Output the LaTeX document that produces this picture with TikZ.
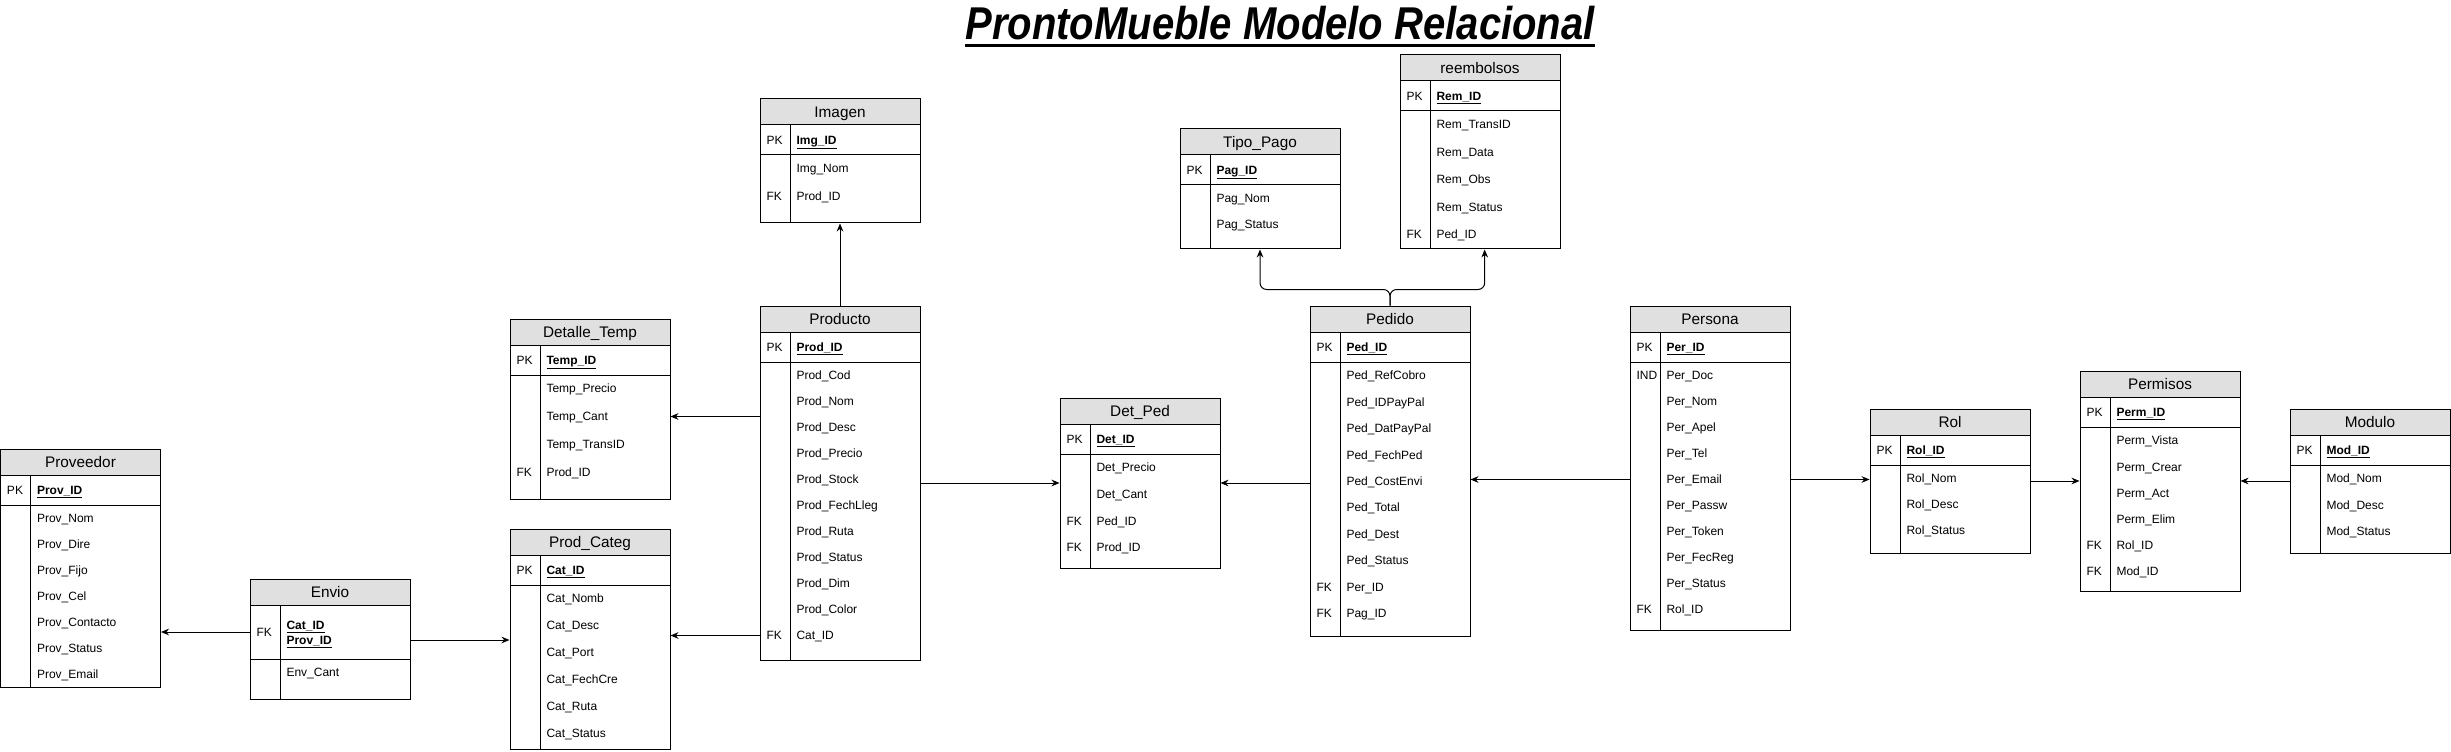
\documentclass[tikz,border=0pt]{standalone}
\usepackage{fontspec}
\setmainfont{Liberation Sans}
\usetikzlibrary{arrows.meta,fit}
\definecolor{headgray}{RGB}{224,224,224}
\newcommand{\rowfont}{\fontsize{9}{10.5}\selectfont}
\newcommand{\headfont}{\fontsize{11.5}{13}\selectfont}
\tikzset{
  tbl/.style={draw, inner sep=0pt},
  headtxt/.style={font=\headfont, inner sep=0pt, text height=8.3pt, text depth=0pt},
  keytxt/.style={font=\rowfont, anchor=west, inner sep=0pt, text height=6.5pt, text depth=0pt},
  fldtxt/.style={keytxt},
  rel/.style={-{Stealth[length=6pt,width=5pt]}},
}
% table: name, left, top, bottom, title, pk field, row pitch, key/field rows
\newcommand{\ertable}[8]{%
  \node[tbl, fit={(#2,#3) ({#2+160},#4)}] (#1) {};
  \draw[fill=headgray] (#2,#3) rectangle ({#2+160},{#3+26});
  \node[headtxt] (#1-title) at ({#2+80},{#3+13}) {#5};
  \draw (#2,{#3+56}) -- ({#2+160},{#3+56});
  \draw ({#2+30},{#3+26}) -- ({#2+30},#4);
  \node[keytxt] at ({#2+6},{#3+41}) {PK};
  \node[fldtxt] (#1-pk) at ({#2+36},{#3+41}) {\bfseries\underline{#6}};
  \foreach \k/\f [count=\i] in {#8} {
    \node[keytxt] at ({#2+6},{#3+69.5+(\i-1)*#7}) {\k};
    \node[fldtxt] (#1-\i) at ({#2+36},{#3+69.5+(\i-1)*#7}) {\f};
  }%
}
\begin{document}
\begin{tikzpicture}[x=0.75pt, y=-0.75pt, line width=0.75pt]
  \useasboundingbox (0,0) rectangle (2451,752);
  % title
  \node[font=\fontsize{34.5}{40}\selectfont\bfseries\itshape, inner sep=0pt, anchor=base] (title) at (1280,39.5) {\scalebox{0.87}[1]{ProntoMueble Modelo Relacional}};
  \draw[line width=2.3pt] ([yshift=-4.5pt]title.base west) -- ([yshift=-4.5pt]title.base east);

  \ertable{prov}{0.5}{449}{687}{Proveedor}{Prov\_ID}{26}{/Prov\_Nom, /Prov\_Dire, /Prov\_Fijo, /Prov\_Cel, /Prov\_Contacto, /Prov\_Status, /Prov\_Email}
  \ertable{dt}{510}{319}{499}{Detalle\_Temp}{Temp\_ID}{28}{/Temp\_Precio, /Temp\_Cant, /Temp\_TransID, FK/Prod\_ID}
  \ertable{pcat}{510}{529}{749}{Prod\_Categ}{Cat\_ID}{27}{/Cat\_Nomb, /Cat\_Desc, /Cat\_Port, /Cat\_FechCre, /Cat\_Ruta, /Cat\_Status}
  \ertable{prod}{760}{306}{660}{Producto}{Prod\_ID}{26}{/Prod\_Cod, /Prod\_Nom, /Prod\_Desc, /Prod\_Precio, /Prod\_Stock, /Prod\_FechLleg, /Prod\_Ruta, /Prod\_Status, /Prod\_Dim, /Prod\_Color, FK/Cat\_ID}
  \ertable{img}{760}{99}{223}{Imagen}{Img\_ID}{28}{/Img\_Nom, FK/Prod\_ID}
  \ertable{detped}{1060}{398}{568}{Det\_Ped}{Det\_ID}{26.6}{/Det\_Precio, /Det\_Cant, FK/Ped\_ID, FK/Prod\_ID}
  \ertable{ped}{1310}{306}{636}{Pedido}{Ped\_ID}{26.4}{/Ped\_RefCobro, /Ped\_IDPayPal, /Ped\_DatPayPal, /Ped\_FechPed, /Ped\_CostEnvi, /Ped\_Total, /Ped\_Dest, /Ped\_Status, FK/Per\_ID, FK/Pag\_ID}
  \ertable{tpago}{1180}{129}{249}{Tipo\_Pago}{Pag\_ID}{26}{/Pag\_Nom, /Pag\_Status}
  \ertable{reemb}{1400}{55}{249}{reembolsos}{Rem\_ID}{27.4}{/Rem\_TransID, /Rem\_Data, /Rem\_Obs, /Rem\_Status, FK/Ped\_ID}
  \ertable{pers}{1630}{306}{630}{Persona}{Per\_ID}{26}{IND/Per\_Doc, /Per\_Nom, /Per\_Apel, /Per\_Tel, /Per\_Email, /Per\_Passw, /Per\_Token, /Per\_FecReg, /Per\_Status, FK/Rol\_ID}
  \ertable{rol}{1870}{409}{553}{Rol}{Rol\_ID}{26}{/Rol\_Nom, /Rol\_Desc, /Rol\_Status}
  \ertable{perm}{2080}{371}{591}{Permisos}{Perm\_ID}{26.2}{/Perm\_Vista, /Perm\_Crear, /Perm\_Act, /Perm\_Elim, FK/Rol\_ID, FK/Mod\_ID}
  \ertable{mod}{2290}{409}{553}{Modulo}{Mod\_ID}{26.2}{/Mod\_Nom, /Mod\_Desc, /Mod\_Status}

  % Envio has a two-field key
  \node[tbl, fit={(250,579) (410,699)}] (env) {};
  \draw[fill=headgray] (250,579) rectangle (410,605);
  \node[headtxt] (env-title) at (330,592) {Envio};
  \draw (250,659) -- (410,659);
  \draw (280,605) -- (280,699);
  \node[keytxt] (env-fk) at (256,632) {FK};
  \node[fldtxt] (env-pk) at (286,625) {\bfseries\underline{Cat\_ID}};
  \node[fldtxt] (env-pk2) at (286,640) {\bfseries\underline{Prov\_ID}};
  \node[fldtxt] (env-1) at (286,672.5) {Env\_Cant};

  % relations
  \draw[rel] (env.west |- env-fk) -- (prov.east |- env-fk);
  \draw[rel] (env.east |- env-pk2) -- (pcat.west |- env-pk2);
  \draw[rel] (prod.west |- prod-11) -- (pcat.east |- prod-11);
  \draw[rel] (prod.west |- dt-2) -- (dt.east |- dt-2);
  \draw[rel] (prod) -- (img);
  \draw[rel] (prod) -- (detped);
  \draw[rel] (ped.west |- detped.east) -- (detped.east);
  \coordinate (split) at ([yshift=12pt]ped.north);
  \draw[rel, rounded corners=5pt] (ped.north) -- (split) -| (tpago.south);
  \draw[rel, rounded corners=5pt] (ped.north) -- (split) -| ([xshift=3.5pt]reemb.south);
  \draw[rel] (pers.west |- pers-5) -- (ped.east |- pers-5);
  \draw[rel] (pers.east |- pers-5) -- (rol.west |- pers-5);
  \draw[rel] (rol.east) -- (perm.west |- rol.east);
  \draw[rel] (mod.west) -- (perm.east |- mod.west);
\end{tikzpicture}
\end{document}
